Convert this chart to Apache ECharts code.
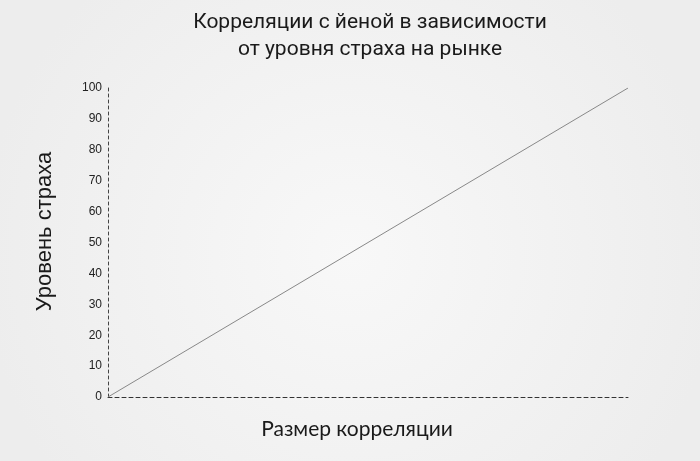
<!DOCTYPE html>
<html>
<head>
<meta charset="utf-8">
<script src="https://cdn.jsdelivr.net/npm/echarts@6/dist/echarts.min.js"></script>
<style>html,body{margin:0;padding:0;}#c{width:700px;height:461px;}</style>
</head>
<body>
<div id="c"></div>
<script>
const titleText = 'Корреляции с йеной в зависимости\nот уровня страха на рынке';
const xName = 'Размер корреляции';
const yName = 'Уровень страха';
const xValues = [0, 100];
const yValues = [0, 100];

const chart = echarts.init(document.getElementById('c'));
chart.setOption({
  animation: false,
  backgroundColor: {
    type: 'radial', x: 0.5, y: 0.55, r: 0.8,
    colorStops: [{offset: 0, color: '#f8f8f8'}, {offset: 1, color: '#ededed'}]
  },
  title: {
    text: titleText,
    left: 365,
    textAlign: 'center',
    top: 4,
    textStyle: {fontFamily: 'Roboto', fontWeight: 400, fontSize: 21, color: '#1a1a1a', lineHeight: 27}
  },
  grid: {left: 108, right: 72, top: 88, bottom: 64},
  xAxis: {
    type: 'value', min: 0, max: 100,
    name: xName, nameLocation: 'middle', nameGap: 22,
    nameTextStyle: {fontFamily: 'Lato', fontSize: 21, color: '#1a1a1a', padding: [0, 22, 0, 0]},
    axisLine: {show: true, lineStyle: {color: '#333', type: [4, 3], width: 1}},
    axisTick: {show: false}, axisLabel: {show: false}, splitLine: {show: false}
  },
  yAxis: {
    type: 'value', min: 0, max: 100, interval: 10,
    name: yName, nameLocation: 'middle', nameGap: 52, nameRotate: 90,
    nameTextStyle: {fontFamily: 'Liberation Sans', fontSize: 22, color: '#1a1a1a', padding: [0, 0, 0, 22]},
    axisLine: {show: true, lineStyle: {color: '#444', type: [3, 3], width: 1}},
    axisTick: {show: false},
    axisLabel: {fontFamily: 'Liberation Sans', fontSize: 12, color: '#222', margin: 6},
    splitLine: {show: false}
  },
  series: [{
    type: 'line',
    data: xValues.map((x, i) => [x, yValues[i]]),
    symbol: 'none',
    lineStyle: {color: '#888', width: 1}
  }]
});
</script>
</body>
</html>
